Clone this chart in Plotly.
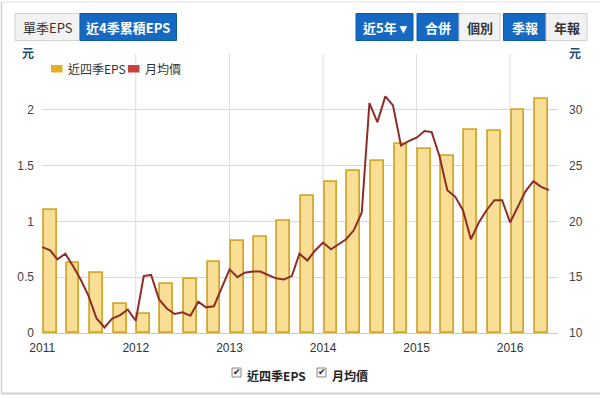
import plotly.graph_objects as go

# ---------------- data ----------------
eps_dates = ["2011-02-01", "2011-05-01", "2011-08-01", "2011-11-01",
             "2012-02-01", "2012-05-01", "2012-08-01", "2012-11-01",
             "2013-02-01", "2013-05-01", "2013-08-01", "2013-11-01",
             "2014-02-01", "2014-05-01", "2014-08-01", "2014-11-01",
             "2015-02-01", "2015-05-01", "2015-08-01", "2015-11-01",
             "2016-02-01", "2016-05-01"]
eps_values = [1.10, 0.63, 0.54, 0.26, 0.17, 0.44, 0.48, 0.64,
              0.82, 0.86, 1.00, 1.23, 1.35, 1.45, 1.54, 1.69,
              1.65, 1.59, 1.82, 1.81, 2.00, 2.10]

price_start_year = 2011
price_values = [17.7, 17.4, 16.6, 17.1, 16.0, 14.75, 13.3, 11.3, 10.5, 11.3, 11.6, 12.1,
                11.1, 15.1, 15.2, 13.0, 12.2, 11.7, 11.85, 11.55, 12.8, 12.3, 12.4, 14.0,
                15.7, 15.0, 15.4, 15.5, 15.5, 15.2, 14.9, 14.8, 15.1, 17.1, 16.5, 17.4,
                18.1, 17.5, 17.9, 18.4, 19.2, 20.8, 30.6, 28.9, 31.2, 30.4, 26.8, 27.2,
                27.5, 28.1, 28.0, 25.8, 22.8, 22.2, 21.0, 18.4, 19.9, 21.0, 21.9, 21.9,
                19.9, 21.3, 22.7, 23.6, 23.1, 22.8]
price_dates = [f"{price_start_year + i // 12}-{i % 12 + 1:02d}-01" for i in range(len(price_values))]

year_ticks = ["2011-01-01", "2012-01-01", "2013-01-01", "2014-01-01", "2015-01-01", "2016-01-01"]
year_labels = ["2011", "2012", "2013", "2014", "2015", "2016"]
left_ticks = [0, 0.5, 1, 1.5, 2, 2.5]
left_labels = ["0", "0.5", "1", "1.5", "2"]
right_ticks = [10, 15, 20, 25, 30, 35]
right_labels = ["10", "15", "20", "25", "30"]

# ---------------- geometry helpers (pixel -> paper) ----------------
W, H = 600, 398
L, R, T, B = 42, 42, 54, 65
PW, PH = W - L - R, H - T - B


def px(x):
    return (x - L) / PW


def py(y):
    return (H - B - y) / PH


FONT = "Liberation Sans, Arial, Noto Sans CJK TC, sans-serif"
CJK = "Noto Sans CJK TC, Liberation Sans, sans-serif"
BLUE = "#1569C2"
UNIT = "<b><span style='color:#1E4E6E'>元</span></b>"

fig = go.Figure()
fig.add_trace(go.Bar(
    x=eps_dates, y=eps_values, name="近四季EPS",
    width=50 * 86400000,
    marker=dict(color="#F9DE95", line=dict(color="#D3A830", width=1.8)),
    yaxis="y",
))
fig.add_trace(go.Scatter(
    x=price_dates, y=price_values, name="月均價", mode="lines",
    line=dict(color="#8E2C27", width=2),
    yaxis="y2",
))

shapes = []
annotations = []

# vertical year gridlines (skip the first at the axis edge)
for t in year_ticks[1:]:
    shapes.append(dict(type="line", xref="x", yref="paper", x0=t, x1=t, y0=0, y1=1,
                       line=dict(color="#DCDCDC", width=1), layer="below"))

# page frame
shapes.append(dict(type="line", xref="paper", yref="paper", x0=px(1.5), x1=px(1.5), y0=py(2), y1=py(393),
                   line=dict(color="#D0D0D0", width=1.5)))
shapes.append(dict(type="line", xref="paper", yref="paper", x0=px(1), x1=px(600), y0=py(2), y1=py(2),
                   line=dict(color="#E2E2E2", width=1)))
shapes.append(dict(type="line", xref="paper", yref="paper", x0=px(1), x1=px(600), y0=py(393.5), y1=py(393.5),
                   line=dict(color="#D0D0D0", width=2)))


def button(x0, x1, text, active, bold=None):
    shapes.append(dict(type="rect", xref="paper", yref="paper",
                       x0=px(x0), x1=px(x1), y0=py(40.5), y1=py(13.5),
                       fillcolor=BLUE if active else "#F2F2F2",
                       line=dict(color="#0F5AA8" if active else "#CFCFCF", width=1)))
    b = active if bold is None else bold
    annotations.append(dict(xref="paper", yref="paper", x=px((x0 + x1) / 2), y=py(27),
                            text=f"<b>{text}</b>" if b else text, showarrow=False,
                            xanchor="center", yanchor="middle",
                            font=dict(family=CJK, size=13, color="white" if active else "#333333")))


button(15, 80, "單季EPS", False)
button(80, 176.5, "近4季累積EPS", True)
button(356, 413, "近5年 ▾", True)
button(417, 459, "合併", True)
button(459, 500, "個別", False, True)
button(503.5, 546, "季報", True)
button(546, 587, "年報", False, True)

# top-left legend
shapes.append(dict(type="rect", xref="paper", yref="paper", x0=px(51), x1=px(62.5), y0=py(72.5), y1=py(65),
                   fillcolor="#E4B022", line=dict(width=0)))
annotations.append(dict(xref="paper", yref="paper", x=px(66), y=py(69), text="近四季EPS", showarrow=False,
                        xanchor="left", yanchor="middle", font=dict(family=CJK, size=12, color="#333333")))
shapes.append(dict(type="rect", xref="paper", yref="paper", x0=px(128), x1=px(139.5), y0=py(72.5), y1=py(65),
                   fillcolor="#C8413F", line=dict(width=0)))
annotations.append(dict(xref="paper", yref="paper", x=px(143), y=py(69), text="月均價", showarrow=False,
                        xanchor="left", yanchor="middle", font=dict(family=CJK, size=12, color="#333333")))

# bottom checkbox legend
for bx, label in [(232, "近四季EPS"), (317, "月均價")]:
    shapes.append(dict(type="rect", xref="paper", yref="paper", x0=px(bx), x1=px(bx + 9), y0=py(377), y1=py(368),
                       fillcolor="#F4F4F4", line=dict(color="#8A8A8A", width=1)))
    annotations.append(dict(xref="paper", yref="paper", x=px(bx + 4.8), y=py(372), text="✔", showarrow=False,
                            xanchor="center", yanchor="middle",
                            font=dict(family="DejaVu Sans", size=9, color="#222222")))
    annotations.append(dict(xref="paper", yref="paper", x=px(bx + 13), y=py(375), text=f"<b>{label}</b>",
                            showarrow=False, xanchor="left", yanchor="middle",
                            font=dict(family=CJK, size=12, color="#222222")))

fig.update_layout(
    width=W, height=H,
    margin=dict(l=L, r=R, t=T, b=B, autoexpand=False),
    paper_bgcolor="white", plot_bgcolor="white",
    showlegend=False,
    bargap=0,
    font=dict(family=FONT, size=12, color="#444444"),
    xaxis=dict(
        type="date", range=["2010-12-31", "2016-07-06"],
        tickvals=year_ticks, ticktext=year_labels,
        showgrid=False, showline=True, linecolor="#C8C8C8", linewidth=1,
        ticks="", ticklabelstandoff=4,
        tickfont=dict(family=FONT, size=12, color="#333333"),
        zeroline=False,
    ),
    yaxis=dict(
        range=[0, 2.5], tickvals=left_ticks, ticktext=left_labels + [UNIT],
        showgrid=True, gridcolor="#D8D8D8", gridwidth=1, zeroline=False,
        ticks="", ticklabelstandoff=7,
        tickfont=dict(family=FONT, size=12, color="#444444"),
    ),
    yaxis2=dict(
        range=[10, 35], tickvals=right_ticks, ticktext=right_labels + [UNIT],
        overlaying="y", side="right", showgrid=False, zeroline=False,
        ticks="", ticklabelstandoff=10,
        tickfont=dict(family=FONT, size=12, color="#444444"),
    ),
    shapes=shapes,
    annotations=annotations,
)

fig.write_html("out.html", config={"displayModeBar": False},
               post_script="document.body.style.margin='0';document.body.style.overflow='hidden';")
